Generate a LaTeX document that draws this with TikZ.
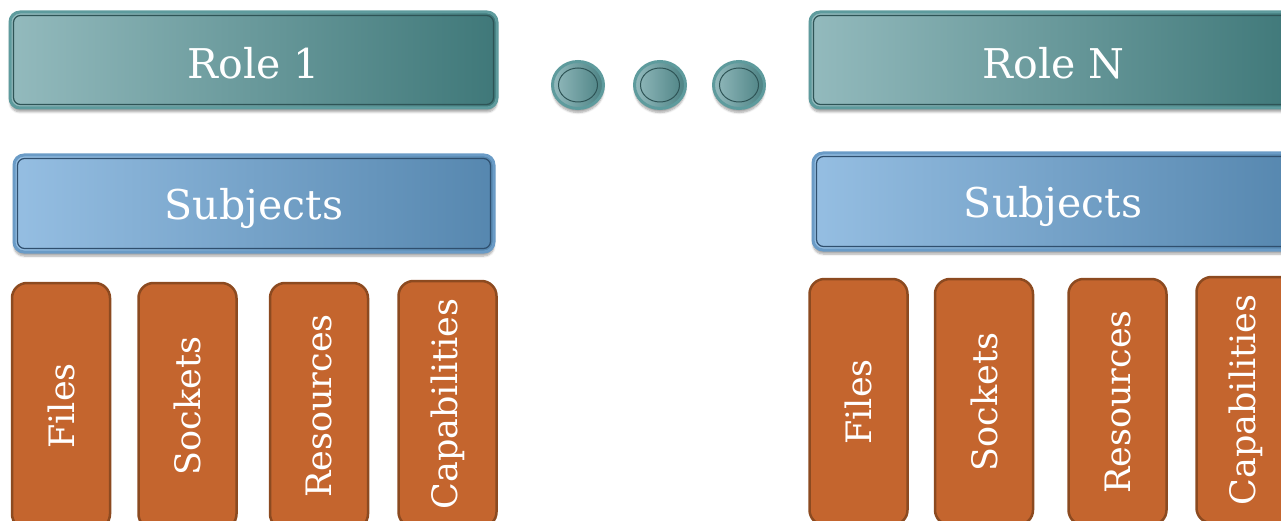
\documentclass[tikz,border=0pt]{standalone}
\usepackage{fontspec}
\setmainfont{DejaVu Serif}
\usetikzlibrary{shapes.geometric,shadows.blur,calc}
\definecolor{roleL}{HTML}{93BABD}
\definecolor{roleR}{HTML}{3F7879}
\definecolor{roleEdge}{HTML}{5E9B9D}
\definecolor{roleInner}{HTML}{2E5456}
\definecolor{subjL}{HTML}{95BEE2}
\definecolor{subjR}{HTML}{5687AF}
\definecolor{subjEdge}{HTML}{6A9BC6}
\definecolor{subjInner}{HTML}{2F4F6E}
\definecolor{objFill}{HTML}{C4652E}
\definecolor{objEdge}{HTML}{8C4A20}
\begin{document}
\begin{tikzpicture}[x=1pt,y=-1pt,
  softshadow/.style={blur shadow={shadow xshift=0pt, shadow yshift=-4pt, shadow opacity=35, shadow blur steps=6}},
  bar/.style={rectangle, rounded corners=10pt, line width=3pt, text=white,
    font=\fontsize{40}{48}\selectfont, softshadow, inner sep=0pt},
  rolebar/.style={bar, draw=roleEdge, left color=roleL, right color=roleR,
    minimum width=487pt, minimum height=96pt},
  subjbar/.style={bar, draw=subjEdge, left color=subjL, right color=subjR,
    minimum width=480pt, minimum height=97pt},
  roleline/.style={draw=roleInner, line width=1.2pt, rounded corners=7pt},
  subjline/.style={draw=subjInner, line width=1.2pt, rounded corners=7pt},
  bartext/.style={text=white, font=\fontsize{41}{48}\selectfont},
  objbox/.style={rectangle, rounded corners=15pt, draw=objEdge, line width=2.5pt,
    fill=objFill, text=white, minimum width=98pt, inner sep=0pt},
  objtext/.style={text=white, rotate=90, font=\fontsize{35}{42}\selectfont},
  dot/.style={ellipse, draw=roleEdge, line width=3pt, left color=roleL, right color=roleR!85!roleL,
    minimum width=51pt, minimum height=47pt, inner sep=0pt, softshadow},
  dotring/.style={draw=roleInner, line width=1pt}
]
\useasboundingbox (0,0) rectangle (1281,521);
\clip (0,0) rectangle (1281,521);

% role bars
\node[rolebar] (role1) at (253.5,60) {};
\node[rolebar] (roleN) at (1053.5,60) {};
\foreach \n in {role1,roleN}{
  \draw[roleline] ($(\n.north west)+(5,5)$) rectangle ($(\n.south east)+(-5,-5)$);
}
\node[bartext] (role1t) at ($(role1.center)+(0,3)$) {Role 1};
\node[bartext] (roleNt) at ($(roleN.center)+(0,3)$) {Role N};

% ellipsis between the roles
\node[dot] (d1) at (578,85) {};
\node[dot] (d2) at (660,85) {};
\node[dot] (d3) at (739,85) {};
\foreach \d in {d1,d2,d3}{
  \draw[dotring] (\d.center) ellipse [x radius=19.5pt, y radius=17pt];
}

% subject bars
\node[subjbar] (subj1) at (254,203.5) {};
\node[subjbar] (subjN) at (1053,201.5) {};
\foreach \n in {subj1,subjN}{
  \draw[subjline] ($(\n.north west)+(5,5)$) rectangle ($(\n.south east)+(-5,-5)$);
}
\node[bartext] (subj1t) at ($(subj1.center)+(0,5)$) {Subjects};
\node[bartext] (subjNt) at ($(subjN.center)+(0,5)$) {Subjects};

% object columns, left group
\node[objbox, minimum height=246pt] (f1) at (61,406) {};
\node[objbox, minimum height=246pt] (s1) at (187.5,406) {};
\node[objbox, minimum height=246pt] (r1) at (319,406) {};
\node[objbox, minimum height=246pt] (c1) at (447.5,404) {};
\node[objtext] at (f1.center) {Files};
\node[objtext] at (s1.center) {Sockets};
\node[objtext] at (r1.center) {Resources};
\node[objtext] at (c1.center) {Capabilities};

% object columns, right group
\node[objbox, minimum height=246pt] (fN) at (858.5,402) {};
\node[objbox, minimum height=246pt] (sN) at (984,402) {};
\node[objbox, minimum height=246pt] (rN) at (1117.5,402) {};
\node[objbox, minimum height=246pt] (cN) at (1245.5,400) {};
\node[objtext] at (fN.center) {Files};
\node[objtext] at (sN.center) {Sockets};
\node[objtext] at (rN.center) {Resources};
\node[objtext] at (cN.center) {Capabilities};
\end{tikzpicture}
\end{document}
